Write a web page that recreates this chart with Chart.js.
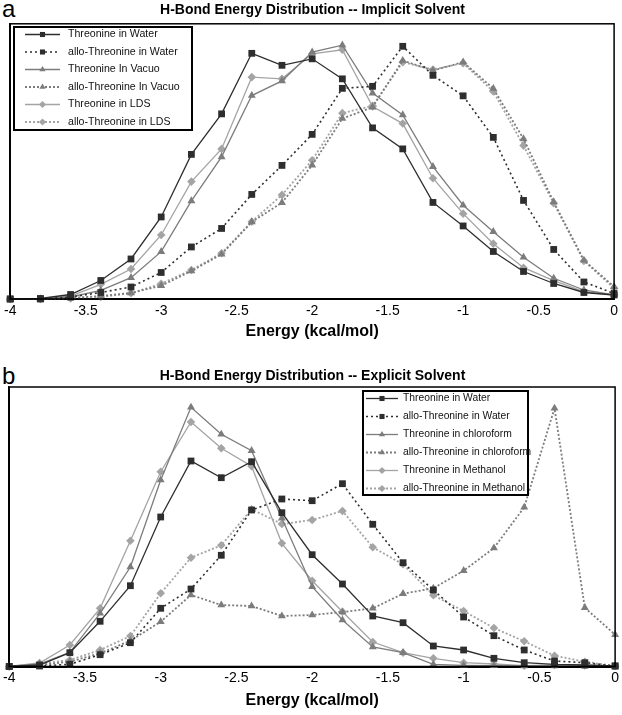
<!DOCTYPE html>
<html>
<head>
<meta charset="utf-8">
<script src="https://cdn.jsdelivr.net/npm/chart.js@4.4.1/dist/chart.umd.min.js"></script>
<style>
  html, body { margin: 0; padding: 0; background: #fff; }
  body { width: 622px; height: 715px; position: relative; overflow: hidden; font-family: "Liberation Sans", Arial, sans-serif; }
  .panel { position: absolute; left: 0; }
  .tag { position: absolute; left: 2px; font-size: 24px; line-height: 24px; color: #000; }
</style>
</head>
<body>
<div class="tag" style="top:-3px;">a</div>
<div class="tag" style="top:364px;">b</div>
<canvas id="ca" class="panel" style="top:0px;" width="622" height="341"></canvas>
<canvas id="cb" class="panel" style="top:363px;" width="622" height="352"></canvas>
<script>
// ---- data (relative frequency, arbitrary units) ----
const energies = [-4, -3.8, -3.6, -3.4, -3.2, -3.0, -2.8, -2.6, -2.4, -2.2, -2.0, -1.8, -1.6, -1.4, -1.2, -1.0, -0.8, -0.6, -0.4, -0.2, 0];
const xTickLabels = ["-4", "-3.5", "-3", "-2.5", "-2", "-1.5", "-1", "-0.5", "0"];

// Panel a: implicit solvent
const aThrWater  = [0, 0.5, 4.5, 18.5, 40, 82, 144.5, 185, 245.5, 233.5, 240, 220, 171, 150, 96.5, 73, 47.5, 27.5, 15.5, 6.5, 4];
const aAlloWater = [0, 0, 2, 6.5, 12, 26.5, 52, 70.5, 104.5, 133.5, 164.5, 210.5, 212.5, 252.5, 223.5, 203, 161.5, 98.5, 49.5, 17, 5.5];
const aThrVacuo  = [0, 0, 2, 8.7, 21.3, 47.3, 98, 142, 203.3, 218, 246.7, 253.7, 205.7, 184, 132.3, 93.7, 67.3, 41.7, 20.7, 9, 4];
const aAlloVacuo = [0, 0, 1, 3, 6, 13.3, 28, 44.7, 77, 96.3, 133.7, 180.3, 191.7, 238.3, 228.3, 236.7, 210.3, 160, 97, 38.7, 12.3];
const aThrLDS    = [0, 0, 3, 14.7, 30, 64, 117.3, 150, 221.7, 220, 245, 249, 192.3, 175.3, 120.7, 85.3, 55.3, 31.3, 18.3, 7.3, 4];
const aAlloLDS   = [0, 0, 0.5, 2, 5.7, 15.3, 29, 45.7, 77.3, 104, 138.7, 185.7, 193, 236.7, 229.3, 235.7, 207.3, 153.3, 95.7, 38, 10.7];
const aLabels = ["Threonine in Water", "allo-Threonine in Water", "Threonine In Vacuo", "allo-Threonine In Vacuo", "Threonine in LDS", "allo-Threonine in LDS"];
const aTitle = "H-Bond Energy Distribution -- Implicit Solvent";
const aMax = 275;

// Panel b: explicit solvent
const bThrWater   = [0, 1.5, 13.8, 45.2, 80.8, 149.5, 205.5, 188.8, 204.8, 153.8, 111.8, 82.5, 50.5, 43.8, 20.5, 16.5, 8.2, 3.8, 2.2, 1.5, 0.5];
const bAlloWater  = [0, 0.5, 2.2, 11.8, 23.8, 58.2, 77.5, 111.2, 156.5, 167.5, 165.8, 182.8, 142.2, 103.8, 76.5, 49.5, 30.8, 16.5, 5.5, 3.8, 0.5];
const bThrChloro  = [0, 2.5, 14.2, 53.2, 99.5, 186.5, 259.2, 232.2, 215.8, 148.2, 79.8, 46.5, 19.5, 13.8, 2.2, 1.2, 0.8, 0.5, 0.5, 0.5, 0.5];
const bAlloChloro = [0, 1.5, 4.8, 13.2, 25.8, 44.8, 71.5, 61.5, 60.5, 50.5, 51.5, 54.5, 58.2, 72.8, 78.2, 95.8, 118.5, 159.2, 258.2, 58.8, 31.8];
const bThrMeth    = [0, 3.5, 21.5, 58.2, 125.8, 194.8, 244.5, 218.2, 200.2, 123.2, 85.8, 54.8, 24.5, 13.8, 8.2, 3.8, 2.5, 0.8, 1.5, 1, 0.5];
const bAlloMeth   = [0, 2.5, 6.5, 16.5, 30.5, 73.2, 108.8, 121.2, 157.2, 142.5, 146.5, 155.5, 119.2, 102.2, 71.2, 55.5, 38.5, 25.2, 10.8, 4.8, 0.5];
const bLabels = ["Threonine in Water", "allo-Threonine in Water", "Threonine in chloroform", "allo-Threonine in chloroform", "Threonine in Methanol", "allo-Threonine in Methanol"];
const bTitle = "H-Bond Energy Distribution -- Explicit Solvent";
const bMax = 279.5;

// ---- styles ----
const FONT = '"Liberation Sans", Arial, sans-serif';
const DARK = '#2e2e2e', MID = '#7c7c7c', LIGHT = '#a4a4a4';
const seriesStyles = [
  { color: DARK,  dash: [],     width: 1.3, point: 'rect',     r: 4.8 },
  { color: DARK,  dash: [2, 3], width: 1.6, point: 'rect',     r: 4.8 },
  { color: MID,   dash: [],     width: 1.3, point: 'triangle', r: 4.6 },
  { color: MID,   dash: [2, 2], width: 1.8, point: 'triangle', r: 4.6 },
  { color: LIGHT, dash: [],     width: 1.3, point: 'rectRot',  r: 4.3 },
  { color: LIGHT, dash: [2, 2], width: 1.8, point: 'rectRot',  r: 4.3 }
];

function toPoints(vals) { return energies.map((e, i) => ({ x: e, y: vals[i] })); }

function makeDatasets(labels, seriesList) {
  return seriesList.map((vals, i) => {
    const s = seriesStyles[i];
    return {
      label: labels[i],
      data: toPoints(vals),
      borderColor: s.color,
      backgroundColor: s.color,
      borderWidth: s.width,
      borderDash: s.dash,
      pointStyle: s.point,
      pointRadius: s.r,
      pointBorderWidth: 0,
      pointBackgroundColor: s.color,
      tension: 0,
      clip: false
    };
  });
}

function drawMarker(ctx, style, x, y, r, color) {
  ctx.fillStyle = color;
  ctx.beginPath();
  if (style === 'rect') {
    const h = r * Math.SQRT1_2;
    ctx.rect(x - h, y - h, 2 * h, 2 * h);
  } else if (style === 'triangle') {
    ctx.moveTo(x, y - r);
    ctx.lineTo(x + r * 0.866, y + r * 0.5);
    ctx.lineTo(x - r * 0.866, y + r * 0.5);
    ctx.closePath();
  } else {
    ctx.moveTo(x, y - r); ctx.lineTo(x + r, y); ctx.lineTo(x, y + r); ctx.lineTo(x - r, y); ctx.closePath();
  }
  ctx.fill();
}

const framePlugin = {
  id: 'frame',
  afterDraw(chart) {
    const { ctx, chartArea: a } = chart;
    ctx.save();
    ctx.strokeStyle = '#000';
    ctx.lineWidth = 1.5;
    ctx.strokeRect(a.left, a.top, a.right - a.left, a.bottom - a.top);
    ctx.restore();
  }
};

const boxLegend = {
  id: 'boxLegend',
  afterDraw(chart, args, o) {
    const ctx = chart.ctx;
    ctx.save();
    ctx.fillStyle = '#fff';
    ctx.fillRect(o.x, o.y, o.w, o.h);
    ctx.lineWidth = 2;
    ctx.strokeStyle = '#000';
    ctx.setLineDash([]);
    ctx.strokeRect(o.x, o.y, o.w, o.h);
    chart.data.datasets.forEach((ds, i) => {
      const yy = o.row0 + i * o.rowH;
      ctx.setLineDash(ds.borderDash || []);
      ctx.lineWidth = ds.borderWidth;
      ctx.strokeStyle = ds.borderColor;
      ctx.beginPath();
      ctx.moveTo(o.l0, yy);
      ctx.lineTo(o.l1, yy);
      ctx.stroke();
      ctx.setLineDash([]);
      drawMarker(ctx, ds.pointStyle, (o.l0 + o.l1) / 2, yy, 3.6, ds.borderColor);
      ctx.fillStyle = '#111';
      ctx.font = o.fontSize + 'px ' + FONT;
      ctx.textBaseline = 'middle';
      ctx.textAlign = 'left';
      ctx.fillText(ds.label, o.tx, yy);
    });
    ctx.restore();
  }
};

function makeChart(canvasId, title, labels, seriesList, yMax, geo) {
  return new Chart(document.getElementById(canvasId), {
    type: 'line',
    data: { datasets: makeDatasets(labels, seriesList) },
    plugins: [framePlugin, boxLegend],
    options: {
      responsive: false,
      animation: false,
      devicePixelRatio: 1,
      layout: { padding: { left: 8, right: 5, top: 0, bottom: 0 } },
      plugins: {
        legend: { display: false },
        tooltip: { enabled: false },
        title: {
          display: true,
          text: title,
          color: '#000',
          font: { family: FONT, size: 14, weight: 'bold' },
          padding: geo.titlePad
        },
        boxLegend: geo.legend
      },
      scales: {
        x: {
          type: 'linear',
          min: -4,
          max: 0,
          afterFit(scale) { scale.height = geo.xHeight; },
          afterBuildTicks(scale) {
            scale.ticks = xTickLabels.map(t => ({ value: parseFloat(t) }));
          },
          ticks: {
            color: '#000',
            font: { family: FONT, size: 14 },
            padding: geo.tickPad,
            maxRotation: 0,
            autoSkip: false,
            callback: (v) => xTickLabels.find(t => parseFloat(t) === v)
          },
          grid: { display: false, drawTicks: false },
          border: { display: true, color: '#000', width: 2 },
          title: {
            display: true,
            text: 'Energy (kcal/mol)',
            color: '#000',
            font: { family: FONT, size: 16, weight: 'bold' },
            padding: geo.axisTitlePad
          }
        },
        y: {
          min: 0,
          max: yMax,
          afterFit(scale) { scale.width = 0; },
          ticks: { display: false },
          grid: { display: false, drawTicks: false },
          border: { display: true, color: '#000', width: 1.5 }
        }
      }
    }
  });
}

makeChart('ca', aTitle, aLabels, [aThrWater, aAlloWater, aThrVacuo, aAlloVacuo, aThrLDS, aAlloLDS], aMax, {
  titlePad: { top: 2, bottom: 5 },
  xHeight: 42,
  tickPad: 4,
  axisTitlePad: { top: 0, bottom: 0 },
  legend: { x: 14, y: 27, w: 178, h: 103, row0: 34.5, rowH: 17.5, l0: 25, l1: 60, tx: 68, fontSize: 10.6 }
});

makeChart('cb', bTitle, bLabels, [bThrWater, bAlloWater, bThrChloro, bAlloChloro, bThrMeth, bAlloMeth], bMax, {
  titlePad: { top: 4.5, bottom: 2.7 },
  xHeight: 48.5,
  tickPad: 3,
  axisTitlePad: { top: 0, bottom: 5 },
  legend: { x: 363, y: 28, w: 165, h: 104, row0: 35.5, rowH: 18, l0: 366, l1: 398, tx: 403, fontSize: 10.3 }
});
</script>
</body>
</html>
